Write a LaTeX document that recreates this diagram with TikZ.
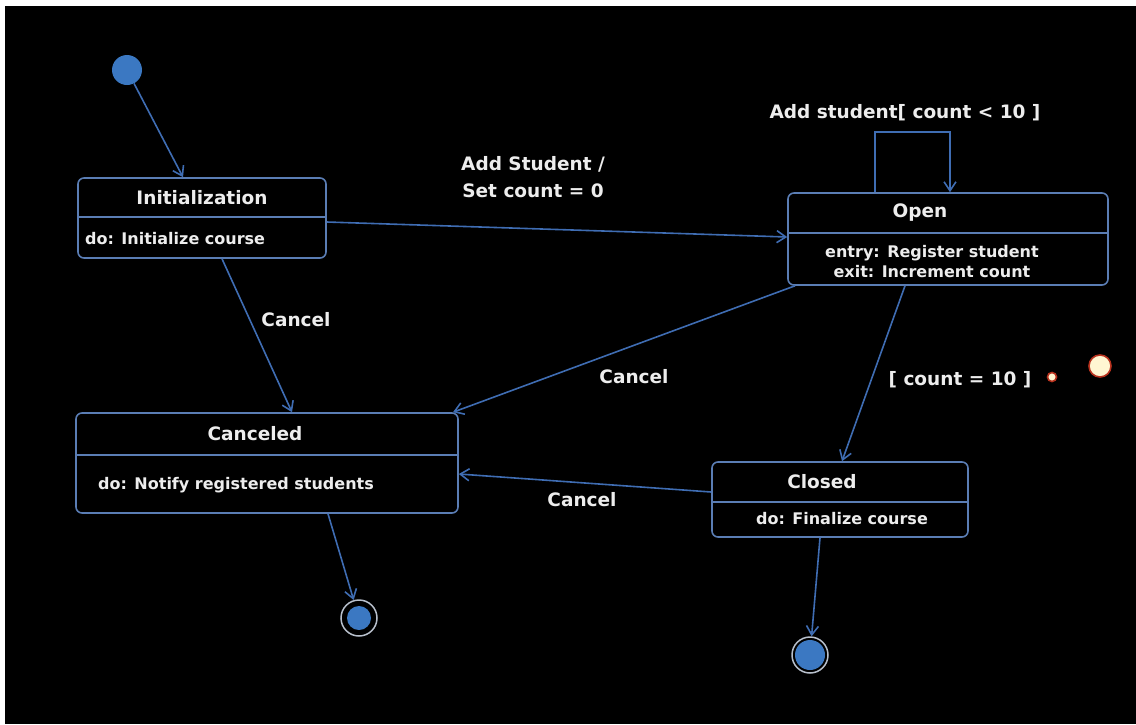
\documentclass[tikz,border=0pt]{standalone}
\usepackage{fontspec}
\setmainfont{DejaVu Sans}
\usetikzlibrary{arrows.meta}
\definecolor{boxblue}{HTML}{5A7DB4}
\definecolor{lineblue}{HTML}{3F6DB3}
\definecolor{dotblue}{HTML}{3B78C2}
\definecolor{ringgray}{HTML}{B8C0CC}
\definecolor{txt}{HTML}{EDEDED}
\definecolor{dotred}{HTML}{B8321E}
\definecolor{cream}{HTML}{FFF6D2}

\begin{document}
\begin{tikzpicture}[x=1pt,y=-1pt,
    state/.style={draw=boxblue, line width=1.6pt, rounded corners=6pt, inner sep=0pt},
    tr/.style={draw=lineblue, line width=1.6pt, -{Straight Barb[length=9pt,width=12pt]}},
    title/.style={text=txt, font=\fontsize{18.5}{22}\selectfont\bfseries, inner sep=0pt},
    body/.style={text=txt, font=\fontsize{16}{20}\selectfont\bfseries, inner sep=0pt, align=center},
    lbl/.style={text=txt, font=\fontsize{18.5}{27}\selectfont\bfseries, inner sep=0pt, align=center},
    start/.style={circle, fill=dotblue, minimum size=30pt, inner sep=0pt},
    final/.style={circle, draw=ringgray, line width=1.5pt, fill=black, minimum size=36pt, inner sep=0pt,
      path picture={\fill[dotblue] (path picture bounding box.center) circle[radius=#1];}},
    dot/.style={circle, draw=dotred, line width=1.6pt, fill=cream, inner sep=0pt}]

    % frame
    \fill[white] (0,0) rectangle (1136,724);
    \fill[black] (5,6) rectangle (1136,724);

    % states
    \node[state, minimum width=248pt, minimum height=80pt] (init) at (202,218) {};
    \draw[boxblue, line width=1.6pt] (init.west |- 0,217) -- (init.east |- 0,217);
    \node[title] (initT) at (202,198) {Initialization};
    \node[body, anchor=west] (initB) at (85,239) {do: Initialize course};

    \node[state, minimum width=320pt, minimum height=92pt] (open) at (948,239) {};
    \draw[boxblue, line width=1.6pt] (open.west |- 0,233) -- (open.east |- 0,233);
    \node[title] (openT) at (920,213) {Open};
    \node[body] (openB) at (932,262) {entry: Register student\\exit: Increment count};

    \node[state, minimum width=382pt, minimum height=100pt] (canc) at (267,463) {};
    \draw[boxblue, line width=1.6pt] (canc.west |- 0,455) -- (canc.east |- 0,455);
    \node[title] (cancT) at (255,434) {Canceled};
    \node[body, anchor=west] (cancB) at (98,485) {do: Notify registered students};

    \node[state, minimum width=256pt, minimum height=75pt] (closed) at (840,499.5) {};
    \draw[boxblue, line width=1.6pt] (closed.west |- 0,502) -- (closed.east |- 0,502);
    \node[title] (closedT) at (822,482) {Closed};
    \node[body] (closedB) at (842,519) {do: Finalize course};

    % pseudo states
    \node[start] (ini) at (127,70) {};
    \node[final=12pt] (fin1) at (359,618) {};
    \node[final=15pt] (fin2) at (810,655) {};

    % transitions
    \draw[tr] (ini) -- ([xshift=-19pt]init.north);
    \draw[tr] ([yshift=-4pt]init.east) -- ([yshift=2pt]open.west);
    \draw[tr] ([xshift=-73pt]open.north) -- ++(0,60pt) -| ([xshift=2pt]open.north);
    \draw[tr] ([xshift=20pt]init.south) -- ([xshift=25pt]canc.north);
    \draw[tr] ([xshift=-153pt]open.south) -- ([xshift=186pt]canc.north);
    \draw[tr] ([yshift=7.5pt]closed.west) -- ([yshift=-11pt]canc.east);
    \draw[tr] ([xshift=-43pt]open.south) -- ([xshift=2pt]closed.north);
    \draw[tr] ([xshift=61pt]canc.south) -- (fin1);
    \draw[tr] ([xshift=-20pt]closed.south) -- (fin2);

    % labels
    \node[lbl] (lSelf) at (905,113) {Add student[ count < 10 ]};
    \node[lbl] (lAdd) at (533,177) {Add Student /\\Set count = 0};
    \node[lbl] (lCan1) at (296,320) {Cancel};
    \node[lbl] (lCan2) at (634,377) {Cancel};
    \node[lbl] (lCan3) at (582,500) {Cancel};
    \node[lbl] (lFull) at (960,380) {[ count = 10 ]};

    % markers
    \node[dot, minimum size=9pt] (dotS) at (1052,377) {};
    \node[dot, minimum size=22pt] (dotL) at (1100,366) {};
\end{tikzpicture}
\end{document}
